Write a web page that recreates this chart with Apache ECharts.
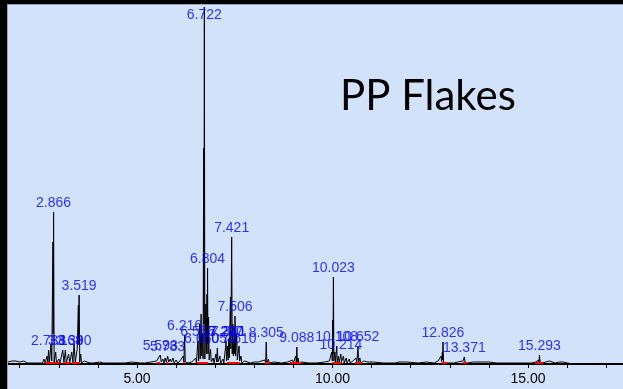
<!DOCTYPE html>
<html>
<head>
<meta charset="utf-8">
<script src="https://cdn.jsdelivr.net/npm/echarts@6/dist/echarts.min.js"></script>
<style>
  html, body { margin: 0; padding: 0; background: #d3e2fb; }
  #chart { width: 623px; height: 389px; }
</style>
</head>
<body>
<div id="chart"></div>
<script>
// retention time (min) vs. relative intensity
const trace = [
  [1.70,2],[1.75,4],[1.80,3],[1.85,5],[1.90,3],[1.95,4],[2.00,2],[2.05,3],[2.10,3],[2.15,4],[2.20,1],[2.30,1],[2.40,1],[2.45,2],[2.50,1],[2.55,3],[2.58,1],
  [2.62,5],[2.65,1],[2.70,8],[2.72,1],[2.738,14],[2.76,2],[2.80,20],[2.82,3],[2.85,122],[2.856,30],[2.866,152],[2.88,2],[2.92,12],[2.94,1],[3.00,5],[3.03,1],
  [3.10,14],[3.13,2],[3.168,14],[3.19,1],[3.25,10],[3.28,1],[3.33,12],[3.36,2],[3.39,20],[3.42,2],[3.47,15],[3.50,59],[3.505,20],[3.519,69],[3.535,2],[3.56,10],[3.58,1],
  [3.65,3],[3.68,1],[3.80,1],[3.85,3],[3.88,1],[4.05,2],[4.15,1],[4.40,1],[4.45,3],[4.48,1],[4.70,1],[4.85,2],[4.90,1],[5.10,1],[5.15,3],[5.20,1],[5.35,2],[5.40,1],
  [5.50,3],[5.55,1],[5.593,9],[5.62,2],[5.66,5],[5.69,1],[5.72,6],[5.75,2],[5.783,8],[5.81,2],[5.85,5],[5.88,2],[5.92,6],[5.95,1],[6.00,4],[6.04,1],[6.10,3],[6.13,1],
  [6.18,8],[6.20,2],[6.216,29],[6.235,2],[6.26,4],[6.30,1],[6.40,2],[6.43,1],[6.50,6],[6.52,1],[6.556,23],[6.575,3],[6.60,40],[6.615,5],[6.64,50],[6.655,8],[6.68,30],
  [6.69,5],[6.705,216],[6.712,40],[6.722,357],[6.735,5],[6.76,60],[6.775,10],[6.79,70],[6.797,20],[6.804,96],[6.815,10],[6.83,47],[6.845,4],[6.88,15],[6.90,2],
  [6.95,6],[6.97,1],[7.02,10],[7.04,2],[7.054,16],[7.07,2],[7.12,8],[7.14,1],[7.20,5],[7.22,1],[7.26,15],[7.277,23],[7.29,3],[7.31,18],[7.33,4],[7.345,25],[7.36,6],
  [7.39,67],[7.40,15],[7.421,127],[7.435,10],[7.45,40],[7.465,8],[7.49,35],[7.50,10],[7.506,48],[7.52,8],[7.55,30],[7.565,4],[7.59,12],[7.61,18],[7.625,3],[7.66,8],
  [7.68,1],[7.75,3],[7.78,1],[7.90,1],[8.00,2],[8.03,1],[8.10,2],[8.12,1],[8.27,4],[8.29,1],[8.305,22],[8.32,1],[8.36,5],[8.38,1],[8.50,2],[8.52,1],[8.70,1],
  [8.85,2],[8.88,1],[8.98,4],[9.00,1],[9.06,8],[9.075,2],[9.088,17],[9.10,2],[9.12,6],[9.14,1],[9.20,2],[9.22,1],[9.40,1],[9.60,1],[9.80,2],[9.82,1],[9.92,3],
  [9.95,1],[9.98,12],[9.995,3],[10.005,44],[10.012,10],[10.023,87],[10.035,3],[10.06,12],[10.075,2],[10.108,18],[10.12,2],[10.15,8],[10.17,2],[10.214,10],[10.23,2],
  [10.28,8],[10.30,1],[10.35,6],[10.37,1],[10.43,5],[10.45,1],[10.52,3],[10.54,1],[10.60,6],[10.62,1],[10.652,17],[10.67,2],[10.70,6],[10.72,1],[10.80,3],[10.82,1],
  [10.90,2],[10.92,1],[11.05,2],[11.08,1],[11.30,1],[11.60,1],[11.70,2],[11.90,2],[11.95,1],[12.20,1],[12.40,2],[12.43,1],[12.60,1],[12.70,3],[12.72,1],[12.78,8],
  [12.79,2],[12.81,12],[12.815,4],[12.826,22],[12.84,2],[12.88,4],[12.90,1],[12.95,3],[12.98,1],[13.10,1],[13.20,2],[13.22,1],[13.34,3],[13.36,1],[13.371,7],
  [13.39,2],[13.43,3],[13.45,1],[13.60,2],[13.62,1],[13.80,2],[13.82,1],[14.00,2],[14.02,1],[14.20,1],[14.80,1],[15.10,1],[15.20,2],[15.22,1],[15.27,4],[15.28,1],
  [15.293,9],[15.31,2],[15.35,3],[15.37,1],[15.55,3],[15.58,1],[15.70,1],[15.80,2],[15.85,1],[15.90,2],[16.00,1],[16.05,1]
];

// labelled peaks: retention time and apex intensity
const peakTimes   = [2.738, 2.866, 3.168, 3.390, 3.519, 5.593, 5.783, 6.216, 6.556, 6.650, 6.722, 6.804, 7.054, 7.277, 7.290, 7.341, 7.421, 7.506, 7.610, 8.305, 9.088, 10.023, 10.108, 10.214, 10.652, 12.826, 13.371, 15.293];
const peakHeights = [14,    152,   14,    14,    69,    9,     8,     29,    23,    16,    357,   96,    16,    23,    23,    23,    127,   48,    16,    22,    17,    87,     18,     10,     18,     22,     7,      9];

// integration baselines (start, end) drawn in red
const baseStarts = [2.65, 3.11, 3.34, 5.51, 5.75, 6.18, 6.53, 7.30, 8.27, 8.91, 9.99, 10.58, 12.80, 13.33, 15.18];
const baseEnds   = [3.03, 3.29, 3.54, 5.59, 5.80, 6.22, 6.82, 7.63, 8.40, 9.22, 10.24, 10.75, 12.93, 13.44, 15.39];

const xTicks = [2, 3, 4, 5, 6, 7, 8, 9, 10, 11, 12, 13, 14, 15, 16, 17];
const xLabels = [5, 10, 15];

const chart = echarts.init(document.getElementById('chart'));

const option = {
  backgroundColor: '#d3e2fb',
  animation: false,
  grid: { left: 8, right: 0, top: 5, bottom: 25 },
  xAxis: {
    type: 'value',
    min: 1.7,
    max: 17.43,
    splitLine: { show: false },
    axisLine: { lineStyle: { color: '#000', width: 2 } },
    axisTick: { customValues: xTicks, length: 4, lineStyle: { color: '#000', width: 1 } },
    axisLabel: {
      customValues: xLabels,
      formatter: v => v.toFixed(2),
      color: '#000',
      fontSize: 14,
      fontFamily: 'Liberation Sans',
      margin: 8
    }
  },
  yAxis: { type: 'value', min: 0, max: 359, show: false },
  graphic: [
    { type: 'rect', shape: { x: 0, y: 0, width: 623, height: 4 }, style: { fill: '#000' }, z: 100 },
    { type: 'rect', shape: { x: 0, y: 0, width: 7, height: 389 }, style: { fill: '#000' }, z: 100 },
    { type: 'line', shape: { x1: 7, y1: 4.5, x2: 623, y2: 4.5 }, style: { stroke: '#9aa3b0', lineWidth: 1 }, z: 100 },
    { type: 'line', shape: { x1: 7.5, y1: 4, x2: 7.5, y2: 389 }, style: { stroke: '#9aa3b0', lineWidth: 1 }, z: 100 },
    {
      type: 'text', x: 340, y: 96, z: 100,
      style: { text: 'PP Flakes', fill: '#000', font: '42px Lato', textVerticalAlign: 'middle' }
    }
  ],
  series: [
    {
      type: 'line',
      data: trace,
      showSymbol: false,
      lineStyle: { color: '#000', width: 1 },
      z: 3
    },
    {
      type: 'lines',
      coordinateSystem: 'cartesian2d',
      data: baseStarts.map((s, i) => ({ coords: [[s, 1], [baseEnds[i], 1]] })),
      lineStyle: { color: '#ff0000', width: 2, opacity: 1 },
      z: 4
    },
    {
      type: 'scatter',
      data: peakTimes.map((t, i) => [t, Math.min(peakHeights[i], 340)]),
      symbolSize: 0,
      label: {
        show: true,
        position: 'top',
        distance: 2,
        formatter: p => p.value[0].toFixed(3),
        color: '#0000ff',
        fontSize: 14,
        fontFamily: 'Liberation Sans'
      },
      z: 5
    }
  ]
};

chart.setOption(option);
</script>
</body>
</html>
